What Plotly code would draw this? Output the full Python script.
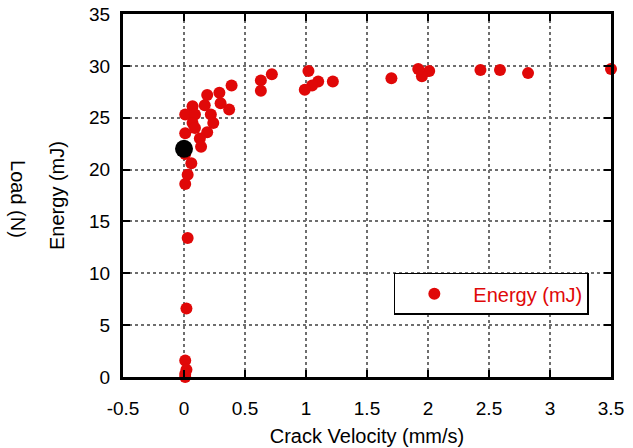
import plotly.graph_objects as go

# Energy (mJ) vs crack velocity (mm/s)
velocity = [3.50, 2.82, 2.59, 2.43, 2.01, 1.95, 1.92, 1.70, 1.22, 1.10, 1.05, 1.02, 0.99,
            0.72, 0.63, 0.63, 0.39, 0.37, 0.29, 0.30, 0.19, 0.17, 0.07, 0.01, 0.09, 0.22,
            0.24, 0.07, 0.09, 0.19, 0.01, 0.13, 0.14, 0.01, 0.06, 0.03, 0.01, 0.03, 0.02,
            0.01, 0.02, 0.01, 0.01]
energy = [29.7, 29.3, 29.6, 29.6, 29.5, 29.0, 29.7, 28.8, 28.5, 28.5, 28.1, 29.5, 27.7,
          29.2, 28.6, 27.6, 28.1, 25.8, 27.4, 26.4, 27.2, 26.2, 26.1, 25.3, 25.3, 25.3,
          24.5, 24.5, 24.0, 23.6, 23.5, 23.0, 22.2, 21.5, 20.6, 19.5, 18.6, 13.4, 6.6,
          1.6, 0.7, 0.0, 0.3]

# highlighted point
hl_velocity = [0.0]
hl_energy = [22.0]

x_ticks = [-0.5, 0, 0.5, 1, 1.5, 2, 2.5, 3, 3.5]
y_ticks = [0, 5, 10, 15, 20, 25, 30, 35]

RED = "#e00808"
FONT = "Liberation Sans, Arial, sans-serif"

fig = go.Figure()
fig.add_trace(go.Scatter(x=velocity, y=energy, mode="markers", name="Energy (mJ)",
                         marker=dict(color=RED, size=12), cliponaxis=False))
fig.add_trace(go.Scatter(x=hl_velocity, y=hl_energy, mode="markers", showlegend=False,
                         marker=dict(color="black", size=18), cliponaxis=False))

axis_common = dict(showline=True, linecolor="black", linewidth=3, mirror="ticks",
                   ticks="inside", ticklen=7, tickwidth=2, tickcolor="black",
                   showgrid=True, gridcolor="#6e6e6e", gridwidth=1.5, griddash="dot",
                   zeroline=False, automargin=False, ticklabeloverflow="allow",
                   tickfont=dict(size=19, color="black", family=FONT))

fig.update_xaxes(range=[-0.5, 3.5], tickvals=x_ticks,
                 ticktext=[str(v) for v in x_ticks], ticklabelstandoff=12,
                 title=dict(text="Crack Velocity (mm/s)", font=dict(size=20, family=FONT, color="black"),
                            standoff=12),
                 **axis_common)
fig.update_yaxes(range=[0, 35], tickvals=y_ticks, ticklabelstandoff=6,
                 title=dict(text="Energy (mJ)", font=dict(size=20, family=FONT, color="black"),
                            standoff=20),
                 **axis_common)

fig.add_annotation(text="Load (N)", textangle=90, xref="paper", yref="paper",
                   x=-0.215, y=0.49, xanchor="center", yanchor="middle", showarrow=False,
                   font=dict(size=20, family=FONT, color="black"))

fig.update_layout(
    width=633, height=448,
    margin=dict(l=123, r=22, t=14, b=71),
    paper_bgcolor="white", plot_bgcolor="white",
    font=dict(family=FONT, size=19, color="black"),
    legend=dict(x=0.555, y=0.287, xanchor="left", yanchor="top",
                bgcolor="white", bordercolor="black", borderwidth=1.5,
                font=dict(size=20, color=RED, family=FONT), itemwidth=68),
)

fig.write_html("out.html", config={"displayModeBar": False},
               post_script="document.body.style.margin='0';")
